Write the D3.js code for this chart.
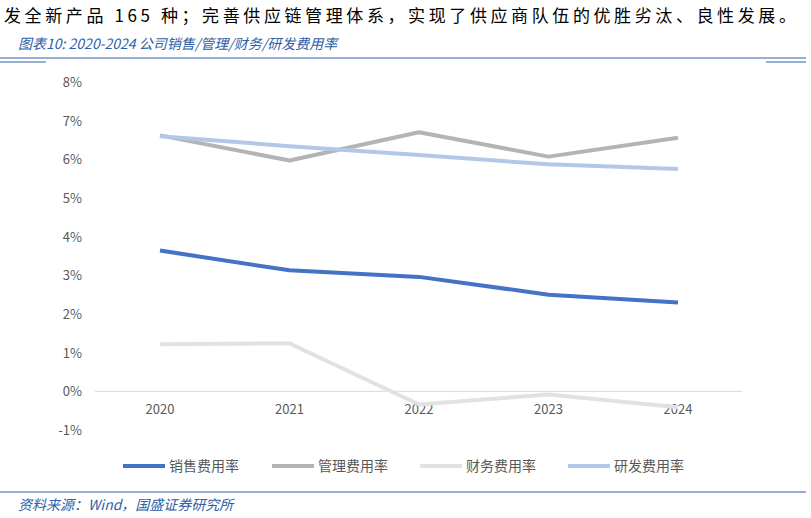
<!DOCTYPE html>
<html><head><meta charset="utf-8">
<script src="https://cdn.jsdelivr.net/npm/d3@7"></script>
<style>body{margin:0;background:#fff;font-family:"Noto Sans CJK SC","Noto Sans",sans-serif}</style>
</head><body>
<svg width="811" height="518"></svg>
<script>
const years = ["2020", "2021", "2022", "2023", "2024"];
const seriesNames = ["销售费用率", "管理费用率", "财务费用率", "研发费用率"];
const sales = [3.64, 3.13, 2.96, 2.5, 2.3];
const admin = [6.62, 5.97, 6.7, 6.07, 6.56];
const finance = [1.22, 1.24, -0.34, -0.08, -0.41];
const rnd = [6.6, 6.34, 6.11, 5.87, 5.75];
const colors = ["#4472c4", "#b4b4b4", "#e2e2e2", "#b4c7e7"];
const yTicks = [-1, 0, 1, 2, 3, 4, 5, 6, 7, 8];

const svg = d3.select("svg");
const blue = "#2e5ea8";

svg.append("text").attr("x", 4).attr("y", 22)
  .style("font-size", "17px").style("letter-spacing", "3.6px").attr("fill", "#000")
  .text("发全新产品 165 种；完善供应链管理体系，实现了供应商队伍的优胜劣汰、良性发展。");
svg.append("text").attr("x", 18).attr("y", 49)
  .style("font-size", "14px").style("font-style", "italic").attr("fill", blue)
  .text("图表10:  2020-2024 公司销售/管理/财务/研发费用率");
svg.append("line").attr("x1", 0).attr("x2", 806).attr("y1", 58).attr("y2", 58).attr("stroke", blue);
svg.append("line").attr("x1", 0).attr("x2", 46).attr("y1", 62).attr("y2", 62).attr("stroke", blue);
svg.append("line").attr("x1", 766).attr("x2", 806).attr("y1", 62).attr("y2", 62).attr("stroke", blue);
svg.append("line").attr("x1", 0).attr("x2", 806).attr("y1", 492).attr("y2", 492).attr("stroke", blue);
svg.append("text").attr("x", 18).attr("y", 510)
  .style("font-size", "14px").style("font-style", "italic").attr("fill", blue)
  .text("资料来源：Wind，国盛证券研究所");

const x = d3.scalePoint().domain(years).range([160, 678]);
const y = d3.scaleLinear().domain([-1, 8]).range([430, 82]);

svg.append("line").attr("x1", 95).attr("x2", 742).attr("y1", y(0)).attr("y2", y(0))
  .attr("stroke", "#d9d9d9");

svg.selectAll(".yt").data(yTicks).enter().append("text")
  .attr("x", 82).attr("y", d => y(d) + 5).attr("text-anchor", "end")
  .style("font-size", "13px").attr("fill", "#595959")
  .text(d => d + "%");

svg.selectAll(".xt").data(years).enter().append("text")
  .attr("x", d => x(d)).attr("y", 414).attr("text-anchor", "middle")
  .style("font-size", "13px").attr("fill", "#595959").text(d => d);

const all = [sales, admin, finance, rnd];
const line = d3.line().x((d, i) => x(years[i])).y(d => y(d));
all.forEach((s, k) => {
  svg.append("path").datum(s).attr("d", line).attr("fill", "none")
    .attr("stroke", colors[k]).attr("stroke-width", 4).attr("stroke-linejoin", "round");
});

const lx = [123, 272, 420, 568];
seriesNames.forEach((n, k) => {
  svg.append("line").attr("x1", lx[k]).attr("x2", lx[k] + 42).attr("y1", 466).attr("y2", 466)
    .attr("stroke", colors[k]).attr("stroke-width", 4);
  svg.append("text").attr("x", lx[k] + 46).attr("y", 471)
    .style("font-size", "14px").attr("fill", "#595959").text(n);
});
</script>
</body></html>
